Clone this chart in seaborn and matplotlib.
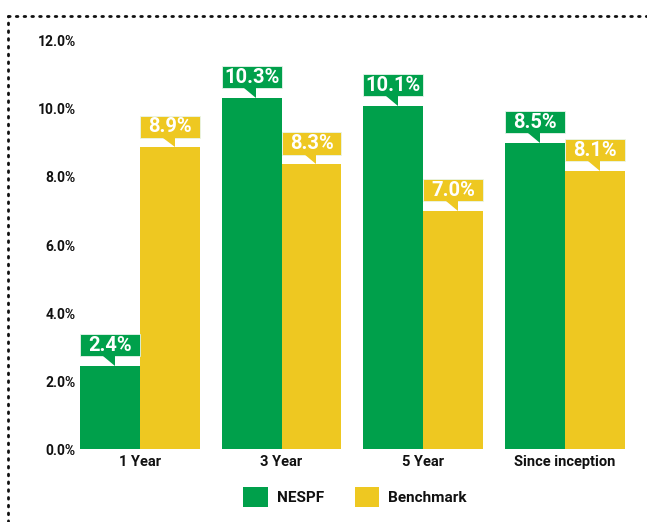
import pandas as pd
import seaborn as sns
import matplotlib.pyplot as plt
from matplotlib.patches import Rectangle, Polygon, Patch
from matplotlib.lines import Line2D

periods = ["1 Year", "3 Year", "5 Year", "Since inception"]
# bar heights as drawn in the picture
nespf = [2.45, 10.33, 10.1, 9.0]
benchmark = [8.87, 8.38, 7.0, 8.18]
# values printed in the callouts
nespf_labels = ["2.4%", "10.3%", "10.1%", "8.5%"]
benchmark_labels = ["8.9%", "8.3%", "7.0%", "8.1%"]
series_names = ["NESPF", "Benchmark"]
colors = ["#00A04B", "#EEC821"]
yticks = [0, 2, 4, 6, 8, 10, 12]

df = pd.DataFrame({
    "period": periods * 2,
    "value": nespf + benchmark,
    "series": [series_names[0]] * 4 + [series_names[1]] * 4,
})

sns.set_style("white")
plt.rcParams["font.family"] = ["Roboto", "DejaVu Sans"]
plt.rcParams["text.color"] = "#111111"
plt.rcParams["xtick.color"] = "#111111"
plt.rcParams["ytick.color"] = "#111111"

fig = plt.figure(figsize=(6.47, 5.22), dpi=100)
ax = fig.add_axes([0.1066, 0.1398, 0.8764, 0.7817])
sns.barplot(data=df, x="period", y="value", hue="series", palette=colors,
            width=0.845, gap=0, saturation=1, legend=False, linewidth=0,
            edgecolor="none", ax=ax)

ax.set_xlim(-0.5, 3.5)
ax.set_ylim(0, 12)
ax.set_yticks(yticks)
ax.set_yticklabels([f"{t:.1f}%" for t in yticks], fontsize=10, fontweight="bold")
ax.tick_params(axis="x", labelsize=10.5, pad=4, length=0)
ax.tick_params(axis="y", pad=-5, length=0)
for lab in ax.get_xticklabels():
    lab.set_fontweight("bold")
ax.set_xlabel("")
ax.set_ylabel("")
sns.despine(ax=ax, left=True, bottom=True)

# callout labels above each bar
box_h = 0.65
gap = 0.28
for cont, labels, col in zip(ax.containers, [nespf_labels, benchmark_labels], colors):
    for bar, lab in zip(cont, labels):
        x0 = bar.get_x()
        w = bar.get_width()
        top = bar.get_height()
        yb = top + gap
        ax.add_patch(Rectangle((x0, yb), w, box_h, facecolor=col,
                               edgecolor="#e8f5ec", linewidth=0.6, clip_on=False))
        ax.add_patch(Polygon([(x0 + 0.38 * w, yb + 0.01), (x0 + 0.58 * w, yb + 0.01),
                              (x0 + 0.58 * w, top)], closed=True,
                             facecolor=col, edgecolor="none", clip_on=False))
        ax.text(x0 + w / 2, yb + box_h / 2, lab, ha="center", va="center",
                color="white", fontsize=14.5, fontweight="bold")

# dotted frame
fig.add_artist(Line2D([8 / 647, 1.0], [1 - 16 / 522] * 2, color="#111111",
                      linestyle=(0, (0.6, 2.2)), linewidth=2, dash_capstyle="round",
                      transform=fig.transFigure))
fig.add_artist(Line2D([8 / 647] * 2, [0.0, 1 - 16 / 522], color="#111111",
                      linestyle=(0, (0.6, 2.2)), linewidth=2, dash_capstyle="round",
                      transform=fig.transFigure))

handles = [Patch(facecolor=c, edgecolor="none") for c in colors]
leg = fig.legend(handles, series_names, loc="center", ncol=2,
                 bbox_to_anchor=(355 / 647, 1 - 497 / 522), frameon=False,
                 prop={"weight": "bold", "size": 11}, handlelength=1.6,
                 handleheight=1.7, columnspacing=2.0, handletextpad=0.6)

fig.savefig("out.png", dpi=100)
